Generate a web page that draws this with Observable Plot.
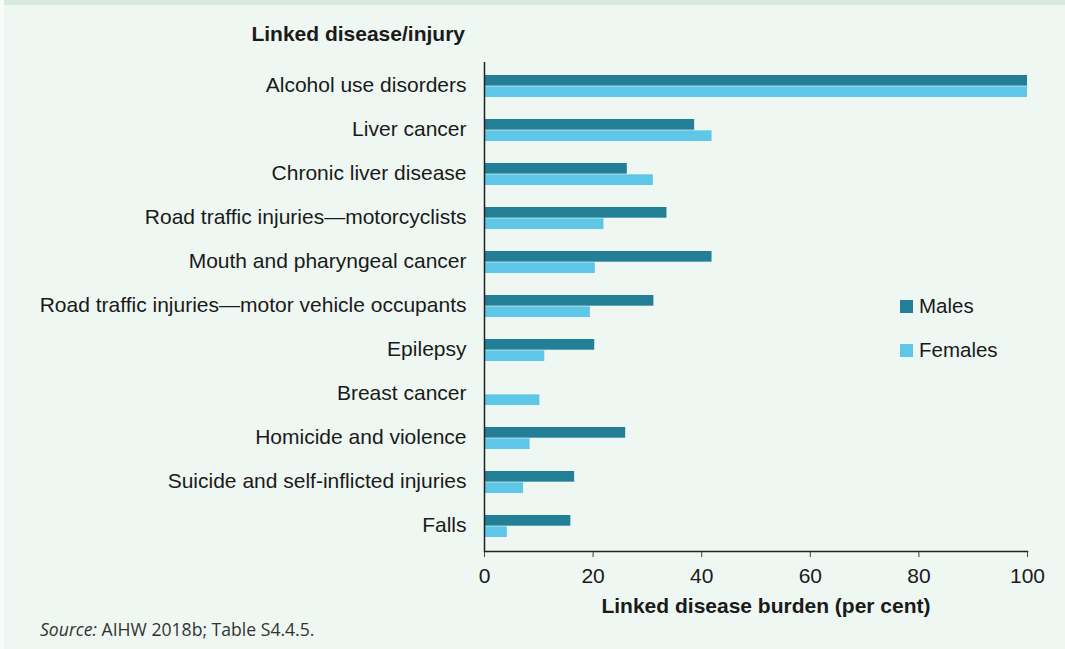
<!DOCTYPE html>
<html>
<head>
<meta charset="utf-8">
<script src="https://cdn.jsdelivr.net/npm/d3@7"></script>
<script src="https://cdn.jsdelivr.net/npm/@observablehq/plot@0.6"></script>
<style>
  html, body { margin: 0; padding: 0; background: #f7fbf9; }
  #page { position: relative; width: 1061px; height: 649px; margin-left: 4px; background: #eef7f2; overflow: hidden; }
  #strip { position: absolute; left: 0; top: 0; width: 100%; height: 5px; background: #d6ebdd; }
  #chart { position: absolute; left: -4px; top: 0; }
  #legend { position: absolute; left: 896px; top: 295px; font: 20.5px "Liberation Sans", Arial, sans-serif; color: #1a1a1a; }
  .row { display: flex; align-items: center; height: 22px; margin-bottom: 22px; }
  .sw { width: 13px; height: 13px; margin-right: 6px; }
  #title { position: absolute; right: calc(1061px - 461px); top: 22px; font: bold 21px "Liberation Sans", Arial, sans-serif; color: #1a1a1a; white-space: nowrap; }
  #source { position: absolute; left: 36px; top: 617px; font: 17.6px "Open Sans", sans-serif; color: #333; }
</style>
</head>
<body>
<div id="page">
  <div id="strip"></div>
  <div id="chart"></div>
  <div id="title">Linked disease/injury</div>
  <div id="legend"></div>
  <div id="source"><i>Source:</i> AIHW 2018b; Table S4.4.5.</div>
</div>
<script>
const categories = [
  "Alcohol use disorders",
  "Liver cancer",
  "Chronic liver disease",
  "Road traffic injuries\u2014motorcyclists",
  "Mouth and pharyngeal cancer",
  "Road traffic injuries\u2014motor vehicle occupants",
  "Epilepsy",
  "Breast cancer",
  "Homicide and violence",
  "Suicide and self-inflicted injuries",
  "Falls"
];
const males   = [100, 38.7, 26.3, 33.6, 41.9, 31.2, 20.3, null, 26.0, 16.6, 15.9];
const females = [100, 41.9, 31.1, 22.0, 20.4, 19.5, 11.1, 10.2, 8.4, 7.2, 4.2];
const series = ["Males", "Females"];
const colors = ["#237f96", "#5ec6e6"];
const xTicks = [0, 20, 40, 60, 80, 100];
const xLabel = "Linked disease burden (per cent)";

const maleRows = categories.map((c, i) => ({category: c, value: males[i]})).filter(d => d.value != null);
const femaleRows = categories.map((c, i) => ({category: c, value: females[i]}));

const font = '"Liberation Sans", Arial, sans-serif';

const chart = Plot.plot({
  width: 1065,
  height: 620,
  marginLeft: 484,
  marginRight: 38,
  marginTop: 62,
  marginBottom: 69,
  style: { background: "transparent", fontFamily: font, fontSize: "21px", color: "#1a1a1a", overflow: "visible" },
  x: { domain: [0, 100], ticks: xTicks },
  y: { domain: categories, paddingInner: 0.49, paddingOuter: 0.245 },
  marks: [
    Plot.barX(maleRows, { x: "value", y: "category", fill: colors[0], insetBottom: 11.33 }),
    Plot.barX(femaleRows, { x: "value", y: "category", fill: colors[1], insetTop: 11.33 }),
    Plot.axisY({ tickSize: 0, tickPadding: 18, label: null, fontSize: 21, dy: -1 }),
    Plot.axisX({ ticks: xTicks, tickSize: 6, tickPadding: 11, label: null, fontSize: 21, stroke: "#444" }),
    Plot.text([xLabel], { frameAnchor: "bottom", text: d => d, dy: 61, dx: 10, fontWeight: "bold", fontSize: 21, fill: "#1a1a1a" }),
    Plot.frame({ anchor: "bottom", stroke: "#222", strokeWidth: 1.5 }),
    Plot.ruleX([0], { stroke: "#222", strokeWidth: 1.5 })
  ]
});
document.getElementById("chart").appendChild(chart);

const legend = document.getElementById("legend");
series.forEach((s, i) => {
  const row = document.createElement("div");
  row.className = "row";
  row.innerHTML = `<div class="sw" style="background:${colors[i]}"></div><span>${s}</span>`;
  legend.appendChild(row);
});
</script>
</body>
</html>
